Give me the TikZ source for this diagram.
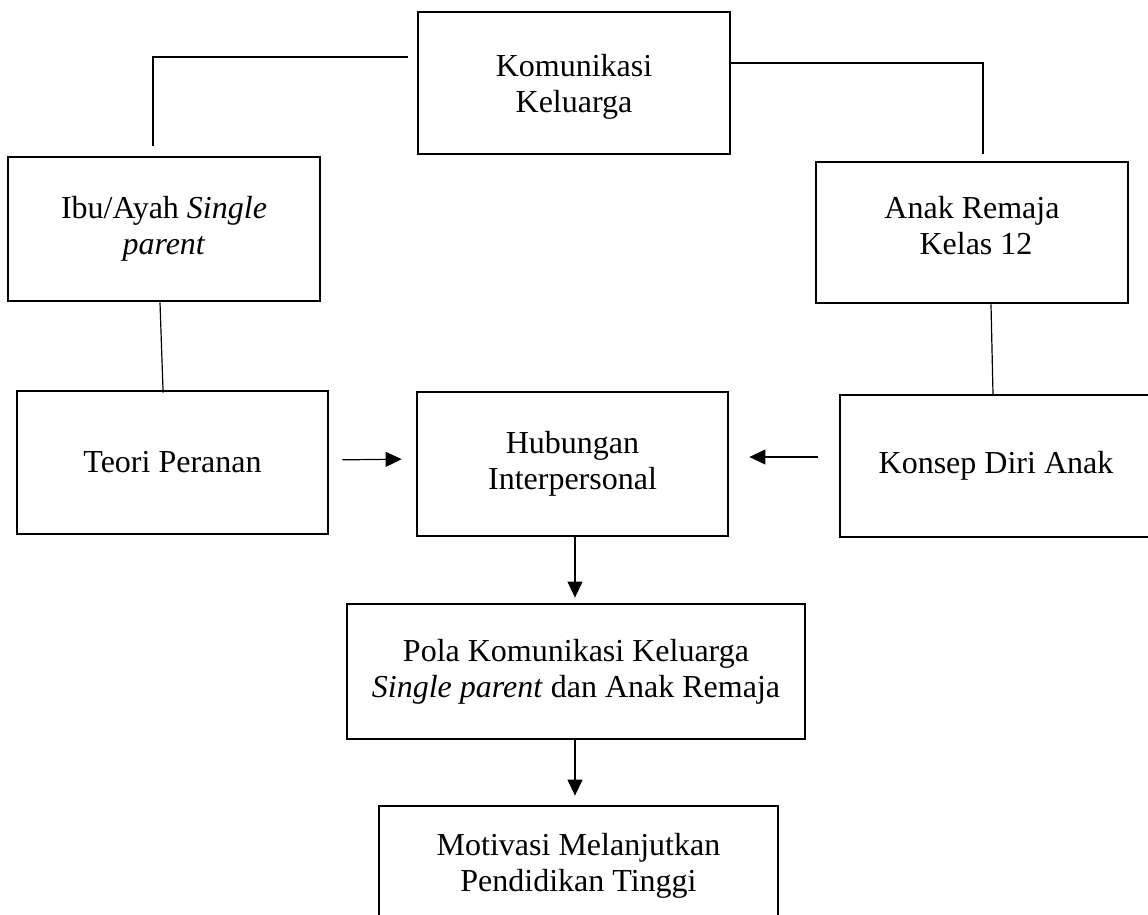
\documentclass[tikz,border=0pt]{standalone}
\usepackage{fontspec}
\setmainfont{Liberation Serif}
\usetikzlibrary{arrows.meta}
\begin{document}
\begin{tikzpicture}[x=0.5pt,y=-0.5pt,
  box/.style={draw, line width=1.4pt, align=center, inner sep=0pt,
    font=\fontsize{16pt}{18pt}\selectfont},
  conn/.style={line width=0.6pt},
  arr/.style={line width=0.6pt, -{Triangle[length=8pt,width=7.5pt]}}]
\clip (0,0) rectangle (1148,915);
\fill[white] (0,0) rectangle (1148,915);
\node[box, minimum width=156pt, minimum height=71pt] (kom) at (574,83) {\rule{0pt}{15pt}Komunikasi\\Keluarga};
\node[box, minimum width=156pt, minimum height=72pt] (ibu) at (164,229) {Ibu/Ayah \textit{Single}\\\textit{parent}};
\node[box, minimum width=156pt, minimum height=70.5pt] (anak) at (972,232.5) {Anak Remaja\\\hspace*{4pt}Kelas 12\rule[-7pt]{0pt}{7pt}};
\node[box, minimum width=155.5pt, minimum height=71.5pt] (teori) at (172.5,462.5) {Teori Peranan};
\node[box, minimum width=155.5pt, minimum height=72pt] (hub) at (572.5,464) {Hubungan\\Interpersonal};
\node[box, minimum width=156pt, minimum height=71pt] (konsep) at (996,466) {Konsep Diri Anak};
\node[box, minimum width=229pt, minimum height=67.5pt] (pola) at (576,671.5) {Pola Komunikasi Keluarga\\\textit{Single parent} dan Anak Remaja};
\node[box, minimum width=199.5pt, minimum height=60pt] (mot) at (578.5,866) {Motivasi Melanjutkan\\Pendidikan Tinggi};
% elbow connectors from Komunikasi Keluarga
\coordinate (eL) at (153,57);
\coordinate (eR) at (983,63);
\draw[conn, shorten <=4.5pt, shorten >=5pt] (kom.west |- eL) -- (eL) -- (eL |- ibu.north);
\draw[conn, shorten >=3.5pt] (kom.east |- eR) -- (eR) -- (eR |- anak.north);
% vertical plain lines
\draw[conn, shorten >=-1.5pt] ([xshift=-2pt]ibu.south) -- ([xshift=-4.75pt]teori.north);
\draw[conn, shorten >=-1pt] ([xshift=9.5pt]anak.south) -- ([xshift=-1.5pt]konsep.north);
% arrows
\draw[arr, shorten <=6.5pt, shorten >=7pt] ([yshift=1.25pt]teori.east) -- ([yshift=2.5pt]hub.west);
\draw[arr, shorten <=10.5pt, shorten >=10pt] ([yshift=4.5pt]konsep.west) -- ([yshift=3.5pt]hub.east);
\draw[arr, shorten >=2.5pt] ([xshift=1.25pt]hub.south) -- ([xshift=1.25pt]hub.south |- pola.north);
\draw[arr, shorten >=4.5pt] ([xshift=-0.5pt]pola.south) -- ([xshift=-0.5pt]pola.south |- mot.north);
\end{tikzpicture}
\end{document}
